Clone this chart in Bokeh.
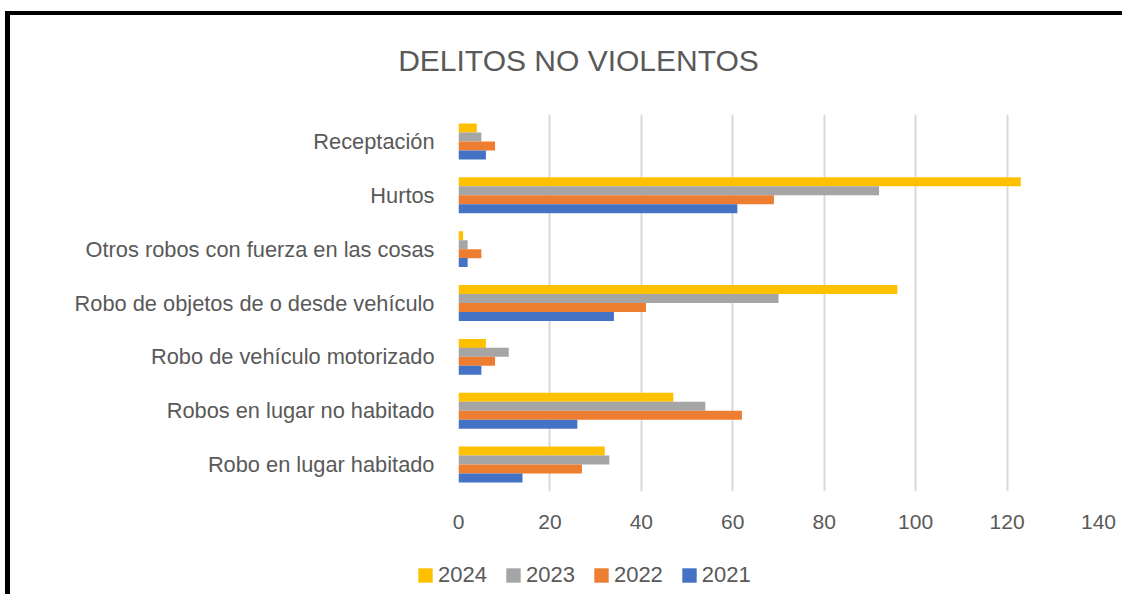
from bokeh.plotting import figure
from bokeh.layouts import column
from bokeh.models import Range1d, FactorRange, Legend, LegendItem, Label, FixedTicker
from bokeh.transform import dodge
from bokeh.embed import file_html
from bokeh.resources import INLINE

# ---- data (bottom to top) ----
categories = [
    "Robo en lugar habitado",
    "Robos en lugar no habitado",
    "Robo de vehículo motorizado",
    "Robo de objetos de o desde vehículo",
    "Otros robos con fuerza en las cosas",
    "Hurtos",
    "Receptación",
]
v2024 = [32, 47, 6, 96, 1, 123, 4]
v2023 = [33, 54, 11, 70, 2, 92, 5]
v2022 = [27, 62, 8, 41, 5, 69, 8]
v2021 = [14, 26, 5, 34, 2, 61, 6]
years = ["2024", "2023", "2022", "2021"]
x_ticks = [0, 20, 40, 60, 80, 100, 120, 140]
title_text = "DELITOS NO VIOLENTOS"

colors = {"2024": "#FFC000", "2023": "#A5A5A5", "2022": "#ED7D31", "2021": "#4472C4"}
offsets = {"2024": 0.25, "2023": 0.0833, "2022": -0.0833, "2021": -0.25}
series = {"2024": v2024, "2023": v2023, "2022": v2022, "2021": v2021}

FONT = "Liberation Sans"
TXT = "#595959"
W = 1112
TOP_H = 99
LEG_H = 53


def strip(height):
    f = figure(
        width=W, height=height, x_range=Range1d(0, W), y_range=Range1d(0, height),
        output_backend="svg", toolbar_location=None,
        min_border_left=0, min_border_right=0, min_border_top=0, min_border_bottom=0,
    )
    f.frame_align = False
    f.axis.visible = False
    f.grid.grid_line_color = None
    f.outline_line_color = None
    f.border_fill_color = "white"
    f.background_fill_color = "white"
    return f


# ---- title strip ----
t = strip(TOP_H)
t.add_layout(Label(
    x=568, y=TOP_H - 45, text=title_text, text_align="center", text_baseline="middle",
    text_font=FONT, text_font_size="30px", text_color=TXT,
))

# ---- main chart ----
p = figure(
    width=W, height=427,
    y_range=FactorRange(factors=categories, range_padding=0),
    x_range=Range1d(0, 140),
    output_backend="svg", toolbar_location=None,
    min_border_left=448, min_border_right=24,
    min_border_top=0, min_border_bottom=50,
)
p.frame_align = False
p.outline_line_color = None
p.background_fill_color = "white"
p.border_fill_color = "white"

data = dict(cat=categories, **{"y" + y: series[y] for y in years})
for y in years:
    p.hbar(
        y=dodge("cat", offsets[y], range=p.y_range),
        right="y" + y, left=0, height=0.167,
        source=data, fill_color=colors[y], line_color=None,
    )

p.xaxis.ticker = FixedTicker(ticks=x_ticks)
for ax in (p.xaxis[0], p.yaxis[0]):
    ax.axis_line_color = None
    ax.major_tick_line_color = None
    ax.minor_tick_line_color = None
    ax.major_label_text_color = TXT
    ax.major_label_text_font = FONT
p.xaxis.major_label_text_font_size = "21px"
p.yaxis.major_label_text_font_size = "21.8px"
p.xaxis.major_label_standoff = 17
p.yaxis.major_label_standoff = 18

p.xgrid.grid_line_color = "#D9D9D9"
p.xgrid.grid_line_width = 2
p.ygrid.grid_line_color = None

# ---- legend strip ----
q = strip(LEG_H)
items = []
for y in years:
    r = q.hbar(y=-100, right="y" + y, left=0, height=1,
               source=data, fill_color=colors[y], line_color=None, visible=False)
    items.append(LegendItem(label=y, renderers=[r]))

legend = Legend(
    items=items, orientation="horizontal", location=(406, 6),
    glyph_width=18, glyph_height=18, label_standoff=4, spacing=17,
    padding=0, margin=0, border_line_color=None, background_fill_alpha=0,
    label_text_font=FONT, label_text_font_size="22px", label_text_color=TXT,
)
q.add_layout(legend, "center")

layout = column(
    t, p, q, spacing=0,
    styles={"margin-left": "5px", "margin-top": "11px",
            "border-left": "5px solid #000", "border-top": "4px solid #000"},
)

open("out.html", "w").write(file_html(layout, INLINE))
